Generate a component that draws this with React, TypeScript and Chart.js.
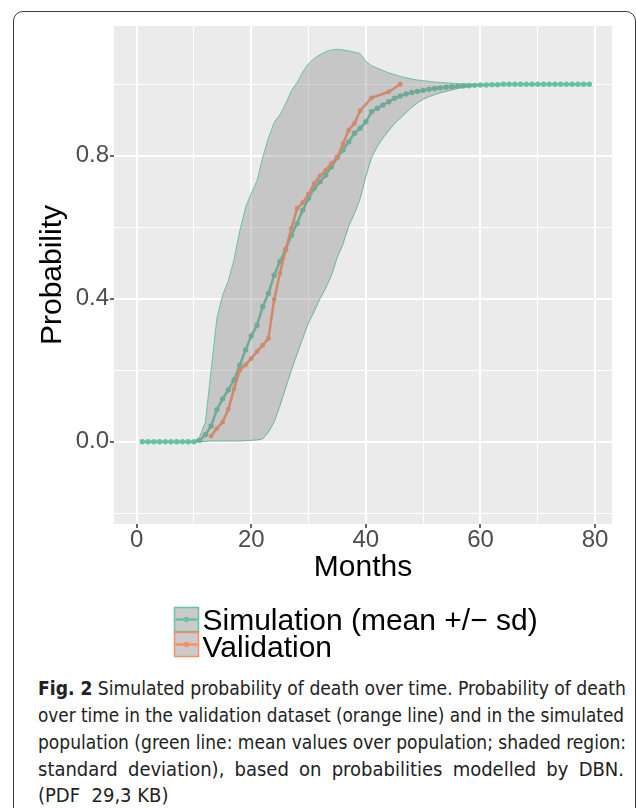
import React, { useEffect, useLayoutEffect, useRef } from 'react';
import { Chart, registerables } from 'chart.js';

Chart.register(...registerables);

// ---------- data ----------
const months = [1,2,3,4,5,6,7,8,9,10,11,12,13,14,15,16,17,18,19,20,21,22,23,24,25,26,27,28,29,30,31,32,33,34,35,36,37,38,39,40,41,42,43,44,45,46,47,48,49,50,51,52,53,54,55,56,57,58,59,60,61,62,63,64,65,66,67,68,69,70,71,72,73,74,75,76,77,78,79];

const meanProb = [
  0,0,0,0,0,0,0,0,0,0,
  0.004,0.02,0.044,0.09,0.12,0.145,0.173,0.214,0.257,0.296,
  0.326,0.378,0.415,0.466,0.504,0.538,0.578,0.611,0.648,0.681,
  0.709,0.727,0.746,0.769,0.795,0.816,0.839,0.863,0.877,0.895,
  0.923,0.933,0.942,0.951,0.961,0.967,0.973,0.977,0.98,0.983,
  0.986,0.988,0.99,0.992,0.993,0.994,0.995,0.996,0.997,0.998,
  0.998,0.999,0.999,1,1,1,1,1,1,1,1,1,1,1,1,1,1,1,1
];

const upperProb = [
  0,0,0,0,0,0,0,0,0,0,
  0.014,0.055,0.2,0.345,0.41,0.45,0.51,0.59,0.655,0.695,
  0.73,0.795,0.85,0.893,0.915,0.945,0.982,1.005,1.035,1.058,
  1.072,1.083,1.091,1.096,1.098,1.096,1.093,1.09,1.086,1.064,
  1.052,1.045,1.038,1.032,1.027,1.022,1.018,1.015,1.012,1.01,
  1.008,1.006,1.005,1.004,1.003,1.002,1.002,1.001,1.001,1,
  1,1,1,1,1,1,1,1,1,1,1,1,1,1,1,1,1,1,1
];

const lowerProb = [
  0,0,0,0,0,0,0,0,0,0,
  0,0.001,0.002,0.002,0.002,0.002,0.002,0.002,0.003,0.004,
  0.005,0.008,0.027,0.055,0.1,0.15,0.2,0.245,0.29,0.333,
  0.365,0.4,0.43,0.465,0.515,0.552,0.603,0.638,0.68,0.742,
  0.795,0.826,0.85,0.87,0.89,0.905,0.92,0.935,0.948,0.958,
  0.965,0.971,0.976,0.98,0.984,0.988,0.991,0.993,0.995,0.996,
  0.997,0.998,0.999,1,1,1,1,1,1,1,1,1,1,1,1,1,1,1,1
];

const validationMonths = [13,14,15,16,17,18,19,20,21,22,23,24,25,26,27,28,29,30,31,32,33,34,35,36,37,38,39,41,44,46];
const validationProb = [0.016,0.037,0.055,0.091,0.148,0.2,0.215,0.233,0.252,0.27,0.289,0.398,0.471,0.536,0.597,0.653,0.669,0.693,0.723,0.744,0.76,0.779,0.795,0.833,0.872,0.89,0.926,0.962,0.979,1.0];

const xTickValues = [0,10,20,30,40,50,60,70,80];
const xTickLabels = ['0','','20','','40','','60','','80'];
const yTickValues = [-0.2,0,0.2,0.4,0.6,0.8,1.0];
const yTickLabels = ['','0.0','','0.4','','0.8',''];

const xTitle = 'Months';
const yTitle = 'Probability';
const legendLabels = ['Simulation (mean +/\u2212 sd)', 'Validation'];

const captionBold = 'Fig. 2';
const captionLines = [
  ' Simulated probability of death over time. Probability of death',
  'over time in the validation dataset (orange line) and in the simulated',
  'population (green line: mean values over population; shaded region:',
  'standard deviation), based on probabilities modelled by DBN.',
  '(PDF\u00a0 29,3 KB)'
];

// ---------- styles ----------
const GREEN = '#66C2A5';
const ORANGE = '#FC8D62';
const RIBBON = 'rgba(127,127,127,0.34)';
const FONT = '"Liberation Sans", Arial, Helvetica, sans-serif';

const panelBg = {
  id: 'panelBg',
  beforeDraw(chart: any) {
    const { ctx, chartArea } = chart;
    ctx.save();
    ctx.fillStyle = '#EBEBEB';
    ctx.fillRect(chartArea.left, chartArea.top, chartArea.right - chartArea.left, chartArea.bottom - chartArea.top);
    ctx.restore();
  }
};

const ggLegend = {
  id: 'ggLegend',
  afterDraw(chart: any) {
    const ctx = chart.ctx;
    const items = [
      { label: legendLabels[0], color: GREEN, top: 607, base: 630 },
      { label: legendLabels[1], color: ORANGE, top: 632, base: 657 }
    ];
    ctx.save();
    items.forEach((it) => {
      const x0 = 174.5, size = 24;
      ctx.fillStyle = '#CBCBCB';
      ctx.fillRect(x0, it.top + 0.5, size, size);
      ctx.strokeStyle = it.color;
      ctx.lineWidth = 1.5;
      ctx.strokeRect(x0, it.top + 0.5, size, size);
      const cy = it.top + 12.5;
      ctx.beginPath();
      ctx.moveTo(x0 + 1, cy);
      ctx.lineTo(x0 + size - 1, cy);
      ctx.lineWidth = 2.5;
      ctx.stroke();
      ctx.beginPath();
      ctx.arc(x0 + size / 2, cy, 2.7, 0, Math.PI * 2);
      ctx.fillStyle = it.color;
      ctx.fill();
      ctx.fillStyle = '#000000';
      ctx.font = `30px ${FONT}`;
      ctx.textBaseline = 'alphabetic';
      ctx.textAlign = 'left';
      ctx.fillText(it.label, 202.5, it.base);
    });
    ctx.restore();
  }
};

function ChartCanvas() {
  const ref = useRef<HTMLCanvasElement>(null);
  useEffect(() => {
    if (!ref.current) return;
    const toPts = (xs: number[], ys: number[]) => xs.map((x, i) => ({ x, y: ys[i] }));
    const chart = new Chart(ref.current, {
      type: 'line',
      data: {
        datasets: [
          {
            label: 'upper',
            data: toPts(months, upperProb),
            borderColor: GREEN,
            borderWidth: 1,
            pointRadius: 0,
            fill: '+1',
            backgroundColor: RIBBON,
            tension: 0,
            order: 0
          },
          {
            label: 'lower',
            data: toPts(months, lowerProb),
            borderColor: GREEN,
            borderWidth: 1,
            pointRadius: 0,
            fill: false,
            tension: 0,
            order: 1
          },
          {
            label: legendLabels[1],
            data: toPts(validationMonths, validationProb),
            borderColor: ORANGE,
            backgroundColor: ORANGE,
            pointBackgroundColor: ORANGE,
            borderWidth: 2.5,
            pointRadius: 2.4,
            pointBorderWidth: 0,
            fill: false,
            tension: 0,
            order: 2
          },
          {
            label: legendLabels[0],
            data: toPts(months, meanProb),
            borderColor: GREEN,
            backgroundColor: GREEN,
            pointBackgroundColor: GREEN,
            borderWidth: 2.5,
            pointRadius: 2.7,
            pointBorderWidth: 0,
            fill: false,
            tension: 0,
            order: 3
          }
        ]
      },
      options: {
        animation: false,
        responsive: false,
        maintainAspectRatio: false,
        devicePixelRatio: 1,
        events: [],
        layout: { padding: { left: 0, right: 24, top: 26, bottom: 70 } },
        plugins: {
          legend: { display: false },
          tooltip: { enabled: false },
          title: { display: false }
        },
        scales: {
          x: {
            type: 'linear',
            min: -3.95,
            max: 82.95,
            afterBuildTicks: (scale: any) => {
              scale.ticks = xTickValues.map((v) => ({ value: v }));
            },
            afterFit: (scale: any) => {
              scale.height = 76;
            },
            border: { display: false },
            grid: {
              color: '#FFFFFF',
              lineWidth: (c: any) => (xTickLabels[c.index] ? 2 : 1),
              drawTicks: true,
              tickLength: 4,
              tickWidth: 1.5,
              tickColor: (c: any) => (xTickLabels[c.index] ? '#333333' : 'rgba(0,0,0,0)')
            },
            ticks: {
              autoSkip: false,
              maxRotation: 0,
              minRotation: 0,
              padding: 0,
              color: '#4D4D4D',
              font: { family: FONT, size: 24, lineHeight: 1 },
              callback: (_v: any, i: number) => xTickLabels[i] ?? ''
            },
            title: {
              display: true,
              text: xTitle,
              color: '#000000',
              font: { family: FONT, size: 30, lineHeight: 1 },
              padding: { top: 0, bottom: 17 }
            }
          },
          y: {
            type: 'linear',
            min: -0.23,
            max: 1.163,
            afterBuildTicks: (scale: any) => {
              scale.ticks = yTickValues.map((v) => ({ value: v }));
            },
            afterFit: (scale: any) => {
              scale.width = 114;
            },
            border: { display: false },
            grid: {
              color: '#FFFFFF',
              lineWidth: (c: any) => (yTickLabels[c.index] ? 2 : 1),
              drawTicks: true,
              tickLength: 4,
              tickWidth: 1.5,
              tickColor: (c: any) => (yTickLabels[c.index] ? '#333333' : 'rgba(0,0,0,0)')
            },
            ticks: {
              autoSkip: false,
              padding: 1,
              color: '#4D4D4D',
              font: { family: FONT, size: 24, lineHeight: 1 },
              callback: (_v: any, i: number) => yTickLabels[i] ?? ''
            },
            title: {
              display: true,
              text: yTitle,
              color: '#000000',
              font: { family: FONT, size: 30, lineHeight: 1 },
              padding: { top: 38, bottom: 0 }
            }
          }
        }
      } as any,
      plugins: [panelBg, ggLegend]
    });
    return () => chart.destroy();
  }, []);
  return (
    <canvas
      ref={ref}
      width={636}
      height={670}
      style={{ position: 'absolute', left: 0, top: 0, width: 636, height: 670, display: 'block' }}
    />
  );
}

function Caption() {
  const refs = useRef<(HTMLSpanElement | null)[]>([]);
  const widths = [588, 586, 588, 586, 0];
  const baselines = [695, 722, 749, 775.5, 802];
  useLayoutEffect(() => {
    const fit = () => {
      refs.current.forEach((el, i) => {
        if (!el) return;
        el.style.wordSpacing = '0px';
        el.style.transform = 'none';
        const target = widths[i];
        if (!target) return;
        const w = el.getBoundingClientRect().width;
        const spaces = ((el.textContent || '').match(/ /g) || []).length;
        if (w < target && spaces > 0) {
          el.style.wordSpacing = `${(target - w) / spaces}px`;
        } else if (w > target) {
          el.style.transform = `scaleX(${target / w})`;
        }
      });
    };
    fit();
    if ((document as any).fonts && (document as any).fonts.ready) {
      (document as any).fonts.ready.then(fit);
    }
  }, []);
  const fam = '"Liberation Sans Narrow", "DejaVu Sans Condensed", "Noto Sans", sans-serif';
  return (
    <>
      {captionLines.map((line, i) => (
        <div
          key={i}
          style={{
            position: 'absolute',
            left: 38,
            top: baselines[i] - 17,
            fontFamily: fam,
            fontSize: 20,
            lineHeight: '20px',
            color: '#222222',
            whiteSpace: 'nowrap'
          }}
        >
          <span
            ref={(el) => {
              refs.current[i] = el;
            }}
            style={{ display: 'inline-block', transformOrigin: 'left center' }}
          >
            {i === 0 ? <b>{captionBold}</b> : null}
            {line}
          </span>
        </div>
      ))}
    </>
  );
}

export default function App() {
  return (
    <div
      style={{
        position: 'fixed',
        left: 0,
        top: 0,
        width: 636,
        height: 808,
        overflow: 'hidden',
        background: '#FFFFFF'
      }}
    >
      <div
        style={{
          position: 'absolute',
          left: 13,
          top: 11,
          width: 623,
          height: 900,
          boxSizing: 'border-box',
          border: '1.5px solid #3a3a3a',
          borderRadius: 10
        }}
      />
      <ChartCanvas />
      <Caption />
    </div>
  );
}
